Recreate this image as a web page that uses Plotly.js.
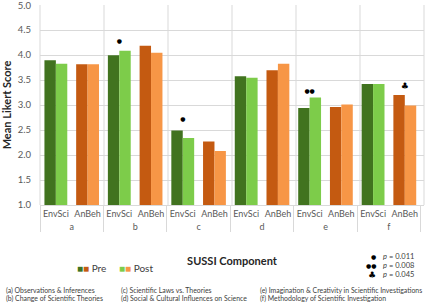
<!DOCTYPE html>
<html>
<head>
<meta charset="utf-8">
<script src="https://cdn.plot.ly/plotly-3.0.1.min.js"></script>
<style>html,body{margin:0;padding:0;background:#fff}#chart{width:427px;height:305px}</style>
</head>
<body>
<div id="chart"></div>
<script>
// ---- data ----
const groups = ['a', 'b', 'c', 'd', 'e', 'f'];
const programs = ['EnvSci', 'AnBeh'];
const preEnvSci  = [3.90, 4.00, 2.49, 3.58, 2.94, 3.42];
const postEnvSci = [3.83, 4.09, 2.34, 3.55, 3.15, 3.42];
const preAnBeh   = [3.82, 4.19, 2.27, 3.70, 2.96, 3.20];
const postAnBeh  = [3.82, 4.05, 2.08, 3.83, 3.01, 2.99];
const yTicks     = [1.0, 1.5, 2.0, 2.5, 3.0, 3.5, 4.0, 4.5, 5.0];
const sigGroup   = ['b', 'c', 'e', 'f'];
const sigProgram = ['EnvSci', 'EnvSci', 'EnvSci', 'AnBeh'];
const sigSymbol  = ['●', '●', '●●', '♣'];
const sigY       = [4.27, 2.71, 3.27, 3.36];
const pLegendSymbols = ['●', '●●', '♣'];
const pLegendValues  = ['0.011', '0.008', '0.045'];
const componentNotes = [
  '(a) Observations & Inferences',
  '(b) Change of Scientific Theories',
  '(c) Scientific Laws vs. Theories',
  '(d) Social & Cultural Influences on Science',
  '(e) Imagination & Creativity in Scientific Investigations',
  '(f) Methodology of Scientific Investigation'
];

// ---- styles ----
const colPreEnv = '#41731f', colPostEnv = '#7dcc4a';
const colPreAn = '#c45a11', colPostAn = '#f79646';
const gridCol = '#d9d9d9';
const FONT = 'Lato, "Open Sans", sans-serif';
const symSize = s => (s === '♣' ? 9 : 6);

const outer = [], inner = [], yPre = [], yPost = [], cPre = [], cPost = [];
groups.forEach((g, i) => {
  outer.push(g, g); inner.push(programs[0], programs[1]);
  yPre.push(preEnvSci[i], preAnBeh[i]);
  yPost.push(postEnvSci[i], postAnBeh[i]);
  cPre.push(colPreEnv, colPreAn);
  cPost.push(colPostEnv, colPostAn);
});

const traces = [
  {type: 'bar', name: 'Pre', x: [outer, inner], y: yPre, marker: {color: cPre}, hoverinfo: 'y'},
  {type: 'bar', name: 'Post', x: [outer, inner], y: yPost, marker: {color: cPost}, hoverinfo: 'y'},
  {type: 'scatter', mode: 'text', x: [sigGroup, sigProgram], y: sigY, text: sigSymbol,
   textfont: {size: sigSymbol.map(symSize), color: '#000', family: 'DejaVu Sans'}, hoverinfo: 'skip'}
];

const shapes = [];
for (let k = 0; k <= groups.length; k++) {
  shapes.push({type: 'line', xref: 'paper', yref: 'paper', x0: k / groups.length, x1: k / groups.length,
    y0: 0, y1: 1, line: {color: gridCol, width: 1}, layer: 'below'});
}

const annotations = [];
// Pre / Post legend
annotations.push({xref: 'paper', yref: 'paper', x: 0.092, y: -0.315, xanchor: 'left', yanchor: 'middle', showarrow: false,
  text: '<span style="color:' + colPreEnv + '">■</span><span style="color:' + colPreAn + '">■</span> Pre',
  font: {size: 10, color: '#404040', family: FONT}});
annotations.push({xref: 'paper', yref: 'paper', x: 0.2, y: -0.315, xanchor: 'left', yanchor: 'middle', showarrow: false,
  text: '<span style="color:' + colPostEnv + '">■</span><span style="color:' + colPostAn + '">■</span> Post',
  font: {size: 10, color: '#404040', family: FONT}});
// p-value legend
pLegendSymbols.forEach((s, i) => {
  annotations.push({xref: 'paper', yref: 'paper', x: 0.88, y: -0.259 - i * 0.045, xanchor: 'right', yanchor: 'middle',
    showarrow: false, text: s, font: {size: symSize(s), color: '#000', family: 'DejaVu Sans'}});
  annotations.push({xref: 'paper', yref: 'paper', x: 0.888, y: -0.259 - i * 0.045, xanchor: 'left', yanchor: 'middle',
    showarrow: false, text: '<i>p</i> = ' + pLegendValues[i], font: {size: 7.5, color: '#404040', family: FONT}});
});
// component notes
const colX = [-0.094, 0.206, 0.568];
componentNotes.forEach((t, i) => {
  const col = Math.floor(i / 2), row = i % 2;
  annotations.push({xref: 'paper', yref: 'paper', x: colX[col], y: -0.427 - row * 0.038, xanchor: 'left', yanchor: 'middle',
    showarrow: false, text: t, font: {size: 6.9, color: '#404040', family: FONT}});
});

const layout = {
  width: 427, height: 305,
  margin: {l: 40, r: 3, t: 5, b: 100},
  paper_bgcolor: '#fff', plot_bgcolor: '#fff',
  barmode: 'group', bargap: 0.28, bargroupgap: 0,
  showlegend: false,
  font: {family: FONT, color: '#595959'},
  xaxis: {
    type: 'multicategory', showgrid: false, showline: true, linecolor: gridCol,
    showdividers: true, dividercolor: gridCol, dividerwidth: 1,
    tickangle: 0, ticks: 'outside', ticklen: 4, tickcolor: 'rgba(0,0,0,0)',
    tickfont: {size: 9, color: '#595959', family: FONT},
    title: {text: '<b>SUSSI Component</b>', font: {size: 11, color: '#262626', family: FONT}, standoff: 26},
    fixedrange: true
  },
  yaxis: {
    range: [1, 5.004], tickmode: 'array', tickvals: yTicks, ticktext: yTicks.map(v => v.toFixed(1)),
    ticklabeloverflow: 'allow',
    showgrid: true, gridcolor: gridCol,
    zeroline: false, showline: false,
    ticks: 'outside', ticklen: 6, tickcolor: 'rgba(0,0,0,0)',
    tickfont: {size: 9.5, color: '#595959', family: FONT},
    title: {text: '<b>Mean Likert Score</b>', font: {size: 11, color: '#262626', family: FONT}, standoff: 9},
    fixedrange: true
  },
  shapes: shapes,
  annotations: annotations
};

Plotly.newPlot('chart', traces, layout, {displayModeBar: false, staticPlot: true});
</script>
</body>
</html>
